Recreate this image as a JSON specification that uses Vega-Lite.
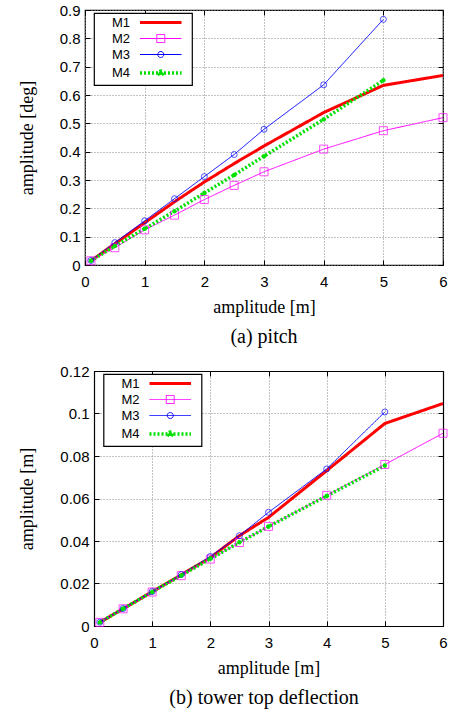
{
  "$schema": "https://vega.github.io/schema/vega-lite/v6.json",
  "background": "white",
  "padding": {"left": 17, "top": 2, "right": 5, "bottom": 4},
  "spacing": 16,
  "resolve": {"scale": {"color": "independent", "strokeWidth": "independent", "strokeDash": "independent"}, "legend": {"color": "independent", "strokeWidth": "independent", "strokeDash": "independent"}},
  "datasets": {
    "pitch": [
      {"s": "M1", "x": 0.1, "y": 0.015}, {"s": "M1", "x": 0.5, "y": 0.075}, {"s": "M1", "x": 1, "y": 0.149}, {"s": "M1", "x": 1.5, "y": 0.223}, {"s": "M1", "x": 2, "y": 0.293}, {"s": "M1", "x": 2.5, "y": 0.358}, {"s": "M1", "x": 3, "y": 0.42}, {"s": "M1", "x": 4, "y": 0.538}, {"s": "M1", "x": 5, "y": 0.634}, {"s": "M1", "x": 6, "y": 0.669},
      {"s": "M2", "x": 0.1, "y": 0.015}, {"s": "M2", "x": 0.5, "y": 0.061}, {"s": "M2", "x": 1, "y": 0.124}, {"s": "M2", "x": 1.5, "y": 0.176}, {"s": "M2", "x": 2, "y": 0.231}, {"s": "M2", "x": 2.5, "y": 0.281}, {"s": "M2", "x": 3, "y": 0.329}, {"s": "M2", "x": 4, "y": 0.409}, {"s": "M2", "x": 5, "y": 0.474}, {"s": "M2", "x": 6, "y": 0.52},
      {"s": "M3", "x": 0.1, "y": 0.016}, {"s": "M3", "x": 0.5, "y": 0.079}, {"s": "M3", "x": 1, "y": 0.156}, {"s": "M3", "x": 1.5, "y": 0.234}, {"s": "M3", "x": 2, "y": 0.312}, {"s": "M3", "x": 2.5, "y": 0.39}, {"s": "M3", "x": 3, "y": 0.479}, {"s": "M3", "x": 4, "y": 0.636}, {"s": "M3", "x": 5, "y": 0.867},
      {"s": "M4", "x": 0.1, "y": 0.015}, {"s": "M4", "x": 0.5, "y": 0.067}, {"s": "M4", "x": 1, "y": 0.128}, {"s": "M4", "x": 1.5, "y": 0.19}, {"s": "M4", "x": 2, "y": 0.254}, {"s": "M4", "x": 2.5, "y": 0.318}, {"s": "M4", "x": 3, "y": 0.384}, {"s": "M4", "x": 4, "y": 0.514}, {"s": "M4", "x": 5, "y": 0.652}
    ],
    "tower": [
      {"s": "M1", "x": 0.1, "y": 0.0017}, {"s": "M1", "x": 0.5, "y": 0.0081}, {"s": "M1", "x": 1, "y": 0.0161}, {"s": "M1", "x": 1.5, "y": 0.0241}, {"s": "M1", "x": 2, "y": 0.0322}, {"s": "M1", "x": 2.5, "y": 0.0425}, {"s": "M1", "x": 3, "y": 0.0511}, {"s": "M1", "x": 4, "y": 0.0731}, {"s": "M1", "x": 5, "y": 0.0953}, {"s": "M1", "x": 6, "y": 0.1047},
      {"s": "M2", "x": 0.1, "y": 0.0017}, {"s": "M2", "x": 0.5, "y": 0.0081}, {"s": "M2", "x": 1, "y": 0.016}, {"s": "M2", "x": 1.5, "y": 0.0237}, {"s": "M2", "x": 2, "y": 0.0315}, {"s": "M2", "x": 2.5, "y": 0.0393}, {"s": "M2", "x": 3, "y": 0.0469}, {"s": "M2", "x": 4, "y": 0.0615}, {"s": "M2", "x": 5, "y": 0.076}, {"s": "M2", "x": 6, "y": 0.0907},
      {"s": "M3", "x": 0.1, "y": 0.0018}, {"s": "M3", "x": 0.5, "y": 0.0082}, {"s": "M3", "x": 1, "y": 0.0162}, {"s": "M3", "x": 1.5, "y": 0.0242}, {"s": "M3", "x": 2, "y": 0.0327}, {"s": "M3", "x": 2.5, "y": 0.0425}, {"s": "M3", "x": 3, "y": 0.0535}, {"s": "M3", "x": 4, "y": 0.0739}, {"s": "M3", "x": 5, "y": 0.1007},
      {"s": "M4", "x": 0.1, "y": 0.0017}, {"s": "M4", "x": 0.5, "y": 0.0081}, {"s": "M4", "x": 1, "y": 0.016}, {"s": "M4", "x": 1.5, "y": 0.0238}, {"s": "M4", "x": 2, "y": 0.0316}, {"s": "M4", "x": 2.5, "y": 0.0394}, {"s": "M4", "x": 3, "y": 0.0468}, {"s": "M4", "x": 4, "y": 0.0612}, {"s": "M4", "x": 5, "y": 0.0755}
    ]
  },
  "vconcat": [
    {
      "width": 358,
      "height": 255,
      "data": {"name": "pitch"},
      "title": {"text": "(a) pitch"},
      "resolve": {"axis": {"x": "independent", "y": "independent"}},
      "layer": [
        {
          "mark": {"type": "line", "clip": true},
          "encoding": {
            "x": {"field": "x", "type": "quantitative", "scale": {"domain": [0, 6], "nice": false, "zero": false}, "axis": {"title": "amplitude [m]", "values": [0, 1, 2, 3, 4, 5, 6], "format": "~g"}},
            "y": {"field": "y", "type": "quantitative", "scale": {"domain": [0, 0.9], "nice": false}, "axis": {"title": "amplitude [deg]", "values": [0, 0.1, 0.2, 0.3, 0.4, 0.5, 0.6, 0.7, 0.8, 0.9], "format": ".1~f"}},
            "color": {"field": "s", "type": "nominal", "scale": {"domain": ["M1", "M2", "M3", "M4"], "range": ["#ff0000", "#ff00ff", "#0000ff", "#00e000"]}, "legend": {"orient": "none", "legendX": 9, "legendY": 3,
              "encode": {"symbols": {"update": {
                "shape": {"signal": "datum.value === 'M2' ? 'M7.2,0H15.5M10.55,-0.8h1.6v1.6h-1.6z' : datum.value === 'M3' ? 'M7.2,0H15.5M11.95,0A0.6,0.6 0 1 1 10.75,0A0.6,0.6 0 1 1 11.95,0' : datum.value === 'M4' ? 'M7.2,0H15.5M11.75,0A0.4,0.4 0 1 1 10.95,0A0.4,0.4 0 1 1 11.75,0' : 'M7.2,0H15.5'"},
                "fill": {"signal": "datum.value === 'M4' ? '#00e000' : 'transparent'"}}}}}},
            "strokeWidth": {"field": "s", "type": "nominal", "scale": {"type": "ordinal", "domain": ["M1", "M2", "M3", "M4"], "range": [3, 1, 1, 3.5]}},
            "strokeDash": {"field": "s", "type": "nominal", "scale": {"type": "ordinal", "domain": ["M1", "M2", "M3", "M4"], "range": [[1, 0], [1, 0], [1, 0], [2, 2]]}}
          }
        },
        {
          "transform": [{"filter": "datum.s === 'M2'"}],
          "mark": {"type": "point", "shape": "square", "filled": false, "size": 64, "stroke": "#ff00ff", "strokeWidth": 1},
          "encoding": {
            "x": {"field": "x", "type": "quantitative", "scale": {"domain": [0, 6], "nice": false, "zero": false}, "axis": {"orient": "top", "labels": false, "title": null, "grid": false, "values": [0, 1, 2, 3, 4, 5, 6]}},
            "y": {"field": "y", "type": "quantitative", "scale": {"domain": [0, 0.9], "nice": false}, "axis": {"orient": "right", "labels": false, "title": null, "grid": false, "values": [0, 0.1, 0.2, 0.3, 0.4, 0.5, 0.6, 0.7, 0.8, 0.9]}}
          }
        },
        {
          "transform": [{"filter": "datum.s === 'M3'"}],
          "mark": {"type": "point", "shape": "circle", "filled": false, "size": 36, "stroke": "#0000ff", "strokeWidth": 1},
          "encoding": {
            "x": {"field": "x", "type": "quantitative", "scale": {"domain": [0, 6], "nice": false, "zero": false}, "axis": null},
            "y": {"field": "y", "type": "quantitative", "scale": {"domain": [0, 0.9], "nice": false}, "axis": null}
          }
        },
        {
          "transform": [{"filter": "datum.s === 'M4'"}],
          "mark": {"type": "point", "shape": "circle", "filled": true, "size": 20, "fill": "#00e000", "opacity": 1},
          "encoding": {
            "x": {"field": "x", "type": "quantitative", "scale": {"domain": [0, 6], "nice": false, "zero": false}, "axis": null},
            "y": {"field": "y", "type": "quantitative", "scale": {"domain": [0, 0.9], "nice": false}, "axis": null}
          }
        }
      ]
    },
    {
      "width": 358,
      "height": 255,
      "view": {"stroke": null},
      "data": {"name": "tower"},
      "title": {"text": "(b) tower top deflection"},
      "resolve": {"axis": {"x": "independent", "y": "independent"}},
      "layer": [
        {
          "mark": {"type": "line", "clip": true},
          "encoding": {
            "x": {"field": "x", "type": "quantitative", "scale": {"domain": [0, 6], "nice": false, "zero": false, "range": [9, 358]}, "axis": {"title": "amplitude [m]", "values": [0, 1, 2, 3, 4, 5, 6], "format": "~g", "domain": true, "domainColor": "black", "domainWidth": 1.2}},
            "y": {"field": "y", "type": "quantitative", "scale": {"domain": [0, 0.12], "nice": false}, "axis": {"title": "amplitude [m]", "values": [0, 0.02, 0.04, 0.06, 0.08, 0.1, 0.12], "format": ".2~f", "offset": -9, "domain": true, "domainColor": "black", "domainWidth": 1.2}},
            "color": {"field": "s", "type": "nominal", "scale": {"domain": ["M1", "M2", "M3", "M4"], "range": ["#ff0000", "#ff00ff", "#0000ff", "#00e000"]}, "legend": {"orient": "none", "legendX": 18.5, "legendY": 3,
              "encode": {"symbols": {"update": {
                "shape": {"signal": "datum.value === 'M2' ? 'M7.2,0H15.5M10.55,-0.8h1.6v1.6h-1.6z' : datum.value === 'M3' ? 'M7.2,0H15.5M11.95,0A0.6,0.6 0 1 1 10.75,0A0.6,0.6 0 1 1 11.95,0' : datum.value === 'M4' ? 'M7.2,0H15.5M11.75,0A0.4,0.4 0 1 1 10.95,0A0.4,0.4 0 1 1 11.75,0' : 'M7.2,0H15.5'"},
                "fill": {"signal": "datum.value === 'M4' ? '#00e000' : 'transparent'"}}}}}},
            "strokeWidth": {"field": "s", "type": "nominal", "scale": {"type": "ordinal", "domain": ["M1", "M2", "M3", "M4"], "range": [3, 1, 1, 3.5]}},
            "strokeDash": {"field": "s", "type": "nominal", "scale": {"type": "ordinal", "domain": ["M1", "M2", "M3", "M4"], "range": [[1, 0], [1, 0], [1, 0], [2, 2]]}}
          }
        },
        {
          "transform": [{"filter": "datum.s === 'M2'"}],
          "mark": {"type": "point", "shape": "square", "filled": false, "size": 64, "stroke": "#ff00ff", "strokeWidth": 1},
          "encoding": {
            "x": {"field": "x", "type": "quantitative", "scale": {"domain": [0, 6], "nice": false, "zero": false, "range": [9, 358]}, "axis": {"orient": "top", "labels": false, "title": null, "grid": false, "values": [0, 1, 2, 3, 4, 5, 6], "domain": true, "domainColor": "black", "domainWidth": 1.2}},
            "y": {"field": "y", "type": "quantitative", "scale": {"domain": [0, 0.12], "nice": false}, "axis": {"orient": "right", "labels": false, "title": null, "grid": false, "values": [0, 0.02, 0.04, 0.06, 0.08, 0.1, 0.12], "domain": true, "domainColor": "black", "domainWidth": 1.2}}
          }
        },
        {
          "transform": [{"filter": "datum.s === 'M3'"}],
          "mark": {"type": "point", "shape": "circle", "filled": false, "size": 36, "stroke": "#0000ff", "strokeWidth": 1},
          "encoding": {
            "x": {"field": "x", "type": "quantitative", "scale": {"domain": [0, 6], "nice": false, "zero": false, "range": [9, 358]}, "axis": null},
            "y": {"field": "y", "type": "quantitative", "scale": {"domain": [0, 0.12], "nice": false}, "axis": null}
          }
        },
        {
          "transform": [{"filter": "datum.s === 'M4'"}],
          "mark": {"type": "point", "shape": "circle", "filled": true, "size": 20, "fill": "#00e000", "opacity": 1},
          "encoding": {
            "x": {"field": "x", "type": "quantitative", "scale": {"domain": [0, 6], "nice": false, "zero": false, "range": [9, 358]}, "axis": null},
            "y": {"field": "y", "type": "quantitative", "scale": {"domain": [0, 0.12], "nice": false}, "axis": null}
          }
        }
      ]
    }
  ],
  "config": {
    "view": {"stroke": "black", "strokeWidth": 1.2},
    "axis": {
      "domain": false,
      "labelFont": "Liberation Sans",
      "labelFontSize": 15,
      "labelColor": "black",
      "titleFont": "Liberation Serif",
      "titleFontSize": 18,
      "titleFontWeight": "normal",
      "titleColor": "black",
      "tickColor": "black",
      "tickSize": -5,
      "tickWidth": 1,
      "gridColor": "#888888",
      "gridDash": [1, 2],
      "gridWidth": 1,
      "gridOpacity": 1
    },
    "axisX": {"labelFlush": false, "labelPadding": 14, "titlePadding": 9},
    "axisY": {"labelFlush": false, "labelPadding": 10, "titlePadding": 23},
    "legend": {
      "title": null,
      "strokeColor": "black",
      "fillColor": "white",
      "padding": 3,
      "labelFont": "Liberation Sans",
      "labelFontSize": 13,
      "labelColor": "black",
      "symbolSize": 100,
      "rowPadding": 2,
      "labelOffset": 1,
      "symbolOpacity": 1,
      "strokeWidth": 1.2,
      "symbolFillColor": "transparent",
      "symbolType": "M7.2,0H15.5"
    },
    "title": {
      "orient": "bottom",
      "font": "Liberation Serif",
      "fontSize": 20,
      "fontWeight": "normal",
      "color": "black",
      "anchor": "middle",
      "offset": 11
    }
  }
}
